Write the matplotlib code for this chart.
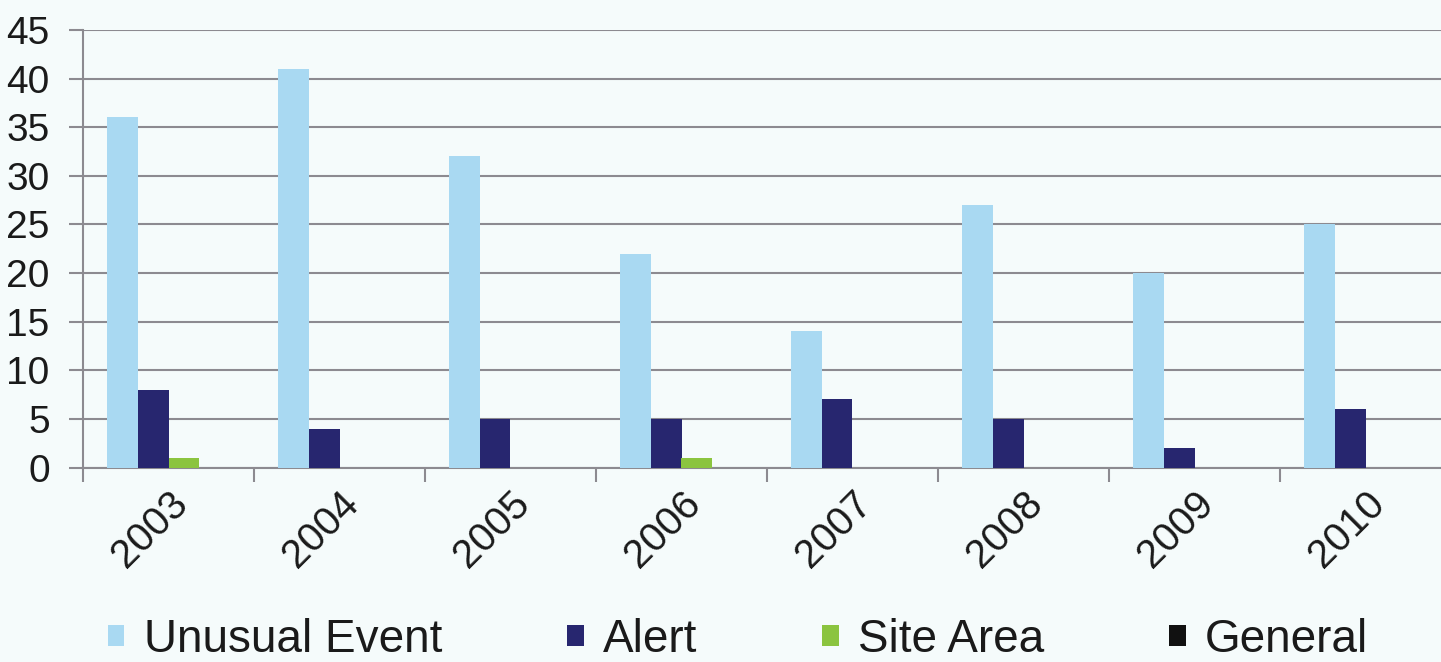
import numpy as np
import matplotlib.pyplot as plt

## chart values
years = ['2003', '2004', '2005', '2006', '2007', '2008', '2009', '2010']
unusual_event = [36, 41, 32, 22, 14, 27, 20, 25]
alert = [8, 4, 5, 5, 7, 5, 2, 6]
site_area = [1, 0, 0, 1, 0, 0, 0, 0]
general = [0, 0, 0, 0, 0, 0, 0, 0]

series = [('Unusual Event', unusual_event, '#a9d9f2'),
          ('Alert', alert, '#27266f'),
          ('Site Area', site_area, '#8bc43f'),
          ('General', general, '#111111')]

plt.rcParams['font.family'] = ['Liberation Sans', 'DejaVu Sans']

fig = plt.figure(figsize=(14.41, 6.62), dpi=100)
fig.patch.set_facecolor('#f5fbfb')
## axes run past the right edge, the original was cropped there
ax = fig.add_axes([83/1441, 1 - 467.5/662, 1368/1441, 437.5/662])
ax.set_facecolor('#f5fbfb')

x = np.arange(len(years))
w = 0.181
for i, (name, vals, col) in enumerate(series):
    ax.bar(x + (i - 1.5) * w, vals, w, color=col, label=name, zorder=3)

ax.set_xlim(-0.5, len(years) - 0.5)
ax.set_ylim(0, 45)
ax.set_yticks(range(0, 46, 5))
ax.yaxis.grid(True, color='#8c8a90', linewidth=1.5, zorder=0)
ax.tick_params(axis='y', labelsize=28, length=10, color='#8c8a90', width=1.5,
               pad=14, labelcolor='#1a1a1a')

ax.set_xticks(x)
ax.set_xticklabels(years, rotation=45, fontsize=29, color='#1a1a1a')
ax.set_xticks(np.arange(len(years) + 1) - 0.5, minor=True)
ax.tick_params(axis='x', which='major', length=0, pad=12)
ax.tick_params(axis='x', which='minor', length=10, color='#8c8a90', width=1.5)
for lab in ax.get_xticklabels():
    lab.set_horizontalalignment('right')
    lab.set_rotation_mode('anchor')

for s in ['top', 'right']:
    ax.spines[s].set_visible(False)
for s in ['left', 'bottom']:
    ax.spines[s].set_color('#8c8a90')
    ax.spines[s].set_linewidth(1.5)

leg = fig.legend(loc='center', bbox_to_anchor=(108/1441, 22/662, 1260/1441, 0),
                 ncol=4, mode='expand', frameon=False, fontsize=33,
                 handlelength=0.36, handleheight=0.3, handletextpad=0.42,
                 borderpad=0, borderaxespad=0)
for t in leg.get_texts():
    t.set_color('#1a1a1a')

fig.savefig('out.png', dpi=100, facecolor=fig.get_facecolor())
